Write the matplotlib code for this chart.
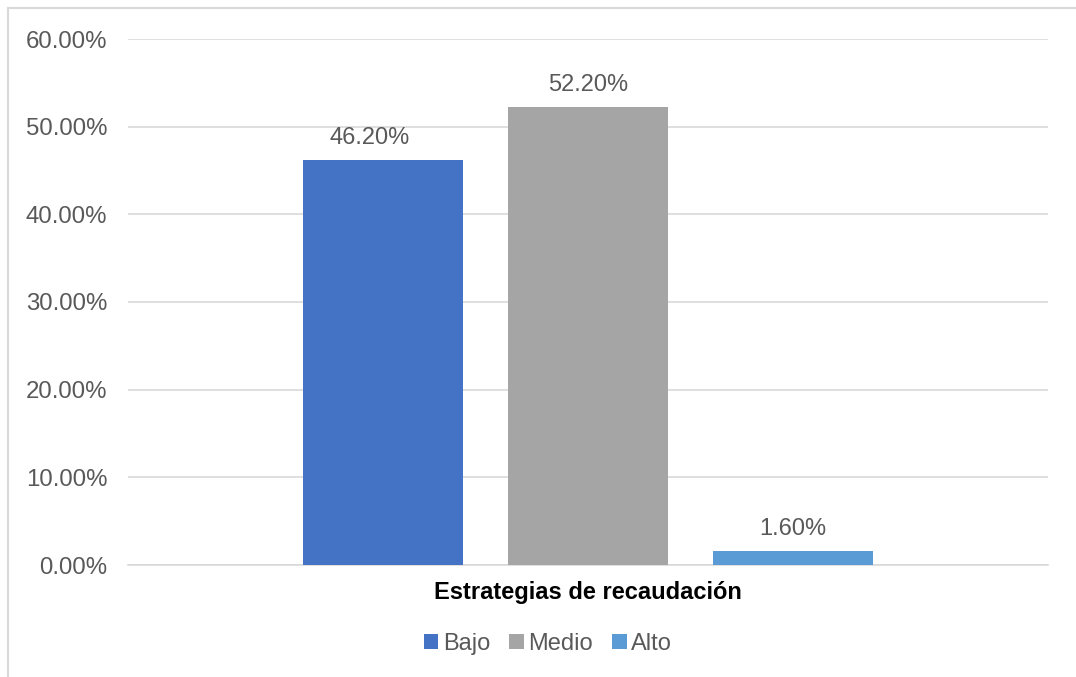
import matplotlib
matplotlib.use("Agg")
import matplotlib.pyplot as plt
from matplotlib.lines import Line2D
from matplotlib.patches import Patch
from matplotlib.ticker import FuncFormatter

categories = ["Bajo", "Medio", "Alto"]
values = [46.2, 52.2, 1.6]
colors = ["#4472C4", "#A5A5A5", "#5B9BD5"]
yticks = [0, 10, 20, 30, 40, 50, 60]
xlabel = "Estrategias de recaudación"

plt.rcParams['font.family'] = ['Liberation Sans', 'DejaVu Sans']
txt = "#595959"

W, H = 1076, 677
fig = plt.figure(figsize=(W/100, H/100), dpi=100)
# outer chart frame (top and left edges visible)
fig.lines.append(Line2D([8/W, 1.0], [1-8/H, 1-8/H], transform=fig.transFigure,
                        color="#D9D9D9", linewidth=1.5))
fig.lines.append(Line2D([8/W, 8/W], [0.0, 1-8/H], transform=fig.transFigure,
                        color="#D9D9D9", linewidth=1.5))

ax = fig.add_axes([128/W, 1-565/H, (1048-128)/W, (565-39)/H])

x = list(range(len(categories)))
ax.bar(x, values, width=0.78, color=colors, zorder=3)
label_dx = [-9.5, 0, 0]
for xi, v, dx in zip(x, values, label_dx):
    ax.annotate(f"{v:.2f}%", (xi, v), xytext=(dx, 8), textcoords="offset points",
                ha="center", va="bottom", fontsize=17, color=txt)

ax.set_xlim(-1.244, 3.244)
ax.set_ylim(0, 60)
ax.set_yticks(yticks)
ax.yaxis.set_major_formatter(FuncFormatter(lambda v, p: f"{v:.2f}%"))
ax.tick_params(axis="y", length=0, pad=15, labelsize=17.3, labelcolor=txt)
ax.set_xticks([])
ax.grid(axis="y", color="#D9D9D9", linewidth=1.2, zorder=0)
for s in ["top", "right", "left"]:
    ax.spines[s].set_visible(False)
ax.spines["bottom"].set_color("#D9D9D9")
ax.spines["bottom"].set_linewidth(1.2)

fig.text(588/W, 1-593/H, xlabel, ha="center", va="center",
         fontsize=17, fontweight="bold", color="black")

handles = [Patch(facecolor=c, label=l) for c, l in zip(colors, categories)]
fig.legend(handles=handles, loc="center", bbox_to_anchor=(548/W, 1-644/H),
           ncol=3, frameon=False, fontsize=17, labelcolor=txt,
           handlelength=0.62, handleheight=0.62, handletextpad=0.2, columnspacing=0.8)

fig.savefig("out.png", dpi=100)
